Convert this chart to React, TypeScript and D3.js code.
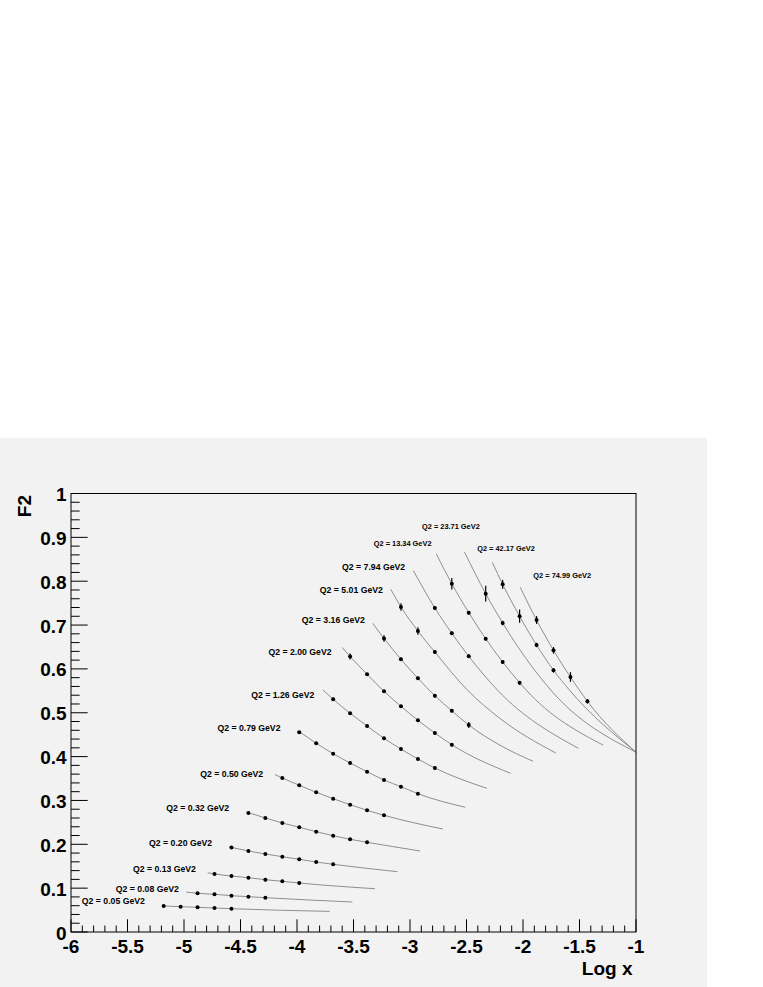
import * as d3 from 'd3';

// F2 vs log x, one curve per Q2 bin
const Q2_BINS = ['0.05', '0.08', '0.13', '0.20', '0.32', '0.50', '0.79', '1.26', '2.00', '3.16', '5.01', '7.94', '13.34', '23.71', '42.17', '74.99'];

const POINT_LOGX: number[][] = [
  [-5.18, -5.03, -4.88, -4.73, -4.58],
  [-4.88, -4.73, -4.58, -4.43, -4.28],
  [-4.73, -4.58, -4.43, -4.28, -4.13, -3.98],
  [-4.58, -4.43, -4.28, -4.13, -3.98, -3.83, -3.68],
  [-4.43, -4.28, -4.13, -3.98, -3.83, -3.68, -3.53, -3.38],
  [-4.13, -3.98, -3.83, -3.68, -3.53, -3.38, -3.23],
  [-3.98, -3.83, -3.68, -3.53, -3.38, -3.23, -3.08, -2.93],
  [-3.68, -3.53, -3.38, -3.23, -3.08, -2.93, -2.78],
  [-3.53, -3.38, -3.23, -3.08, -2.93, -2.78, -2.63],
  [-3.23, -3.08, -2.93, -2.78, -2.63, -2.48],
  [-3.08, -2.93, -2.78],
  [-2.78, -2.63, -2.48],
  [-2.63, -2.48, -2.33, -2.18, -2.03],
  [-2.33, -2.18],
  [-2.18, -2.03, -1.88, -1.73],
  [-1.88, -1.73, -1.58, -1.43],
];

const POINT_F2: number[][] = [
  [0.0593, 0.0577, 0.0563, 0.0547, 0.0531],
  [0.0883, 0.0860, 0.0828, 0.0805, 0.0782],
  [0.1323, 0.1277, 0.1238, 0.1193, 0.1156, 0.1117],
  [0.1927, 0.1847, 0.1779, 0.1717, 0.1658, 0.1596, 0.1544],
  [0.2714, 0.2600, 0.2486, 0.2388, 0.2288, 0.2196, 0.2114, 0.2046],
  [0.3512, 0.3346, 0.3186, 0.3040, 0.2903, 0.2775, 0.2661],
  [0.4554, 0.4303, 0.4066, 0.3854, 0.3656, 0.3466, 0.3314, 0.3154],
  [0.5307, 0.4988, 0.4698, 0.4417, 0.4173, 0.3945, 0.3740],
  [0.6283, 0.5877, 0.5489, 0.5147, 0.4828, 0.4538, 0.4271],
  [0.6693, 0.6219, 0.5786, 0.5389, 0.5044, 0.4721],
  [0.7412, 0.6864, 0.6385],
  [0.7389, 0.6812, 0.6287],
  [0.7943, 0.7282, 0.6689, 0.6157, 0.5685],
  [0.7715, 0.7047],
  [0.7929, 0.7202, 0.6545, 0.5968],
  [0.7115, 0.6424, 0.5815, 0.5261],
];

const POINT_ERR: number[][] = [
  [0.002, 0.002, 0.002, 0.002, 0.002],
  [0.002, 0.002, 0.002, 0.002, 0.002],
  [0.002, 0.002, 0.002, 0.002, 0.002, 0.002],
  [0.002, 0.002, 0.002, 0.002, 0.002, 0.002, 0.002],
  [0.002, 0.002, 0.002, 0.002, 0.002, 0.002, 0.002, 0.003],
  [0.003, 0.003, 0.003, 0.003, 0.003, 0.003, 0.003],
  [0.003, 0.003, 0.003, 0.003, 0.003, 0.003, 0.003, 0.003],
  [0.004, 0.003, 0.003, 0.003, 0.003, 0.003, 0.004],
  [0.007, 0.003, 0.003, 0.003, 0.003, 0.003, 0.004],
  [0.0076, 0.004, 0.004, 0.004, 0.004, 0.007],
  [0.0084, 0.0084, 0.004],
  [0.004, 0.004, 0.004],
  [0.013, 0.004, 0.004, 0.004, 0.004],
  [0.018, 0.005],
  [0.010, 0.015, 0.005, 0.005],
  [0.009, 0.0076, 0.011, 0.005],
];

// fitted curve: start, extra tail samples and end point (log x, F2)
const CURVE_START: [number, number][] = [
  [-5.18, 0.0593], [-4.98, 0.091], [-4.79, 0.135], [-4.6, 0.1935], [-4.45, 0.2722], [-4.195, 0.359],
  [-4.0, 0.4575], [-3.77, 0.552], [-3.6, 0.649], [-3.33, 0.704], [-3.17, 0.7815], [-2.97, 0.824],
  [-2.767, 0.862], [-2.519, 0.867], [-2.272, 0.843], [-2.024, 0.786],
];

const CURVE_TAIL: [number, number][][] = [
  [], [], [], [], [], [], [], [], [],
  [[-2.204, 0.426]],
  [[-2.493, 0.552], [-2.204, 0.487]],
  [[-2.227, 0.552]],
  [[-1.973, 0.552]],
  [[-1.755, 0.552]],
  [[-1.59, 0.552]],
  [],
];

const CURVE_END: [number, number][] = [
  [-3.71, 0.047], [-3.51, 0.0684], [-3.31, 0.0987], [-3.11, 0.1375], [-2.91, 0.1847], [-2.71, 0.2349],
  [-2.51, 0.2844], [-2.32, 0.3277], [-2.11, 0.3619], [-1.91, 0.3893], [-1.71, 0.4082], [-1.51, 0.4189],
  [-1.29, 0.426], [-1, 0.41], [-1, 0.41], [-1, 0.41],
];

// label centres (log x, F2)
const LABEL_POS: [number, number][] = [
  [-5.625, 0.0707], [-5.324, 0.0987], [-5.173, 0.143], [-5.03, 0.2036], [-4.879, 0.2835], [-4.578, 0.361],
  [-4.425, 0.4652], [-4.126, 0.541], [-3.973, 0.639], [-3.678, 0.712], [-3.519, 0.779], [-3.322, 0.832],
  [-3.065, 0.885], [-2.638, 0.924], [-2.15, 0.875], [-1.653, 0.812],
];

const W = 763;
const H = 987;
const FONT = '"Liberation Sans", Arial, Helvetica, sans-serif';
const BG = '#f2f2f2';

export default function App() {
  const x = d3.scaleLinear().domain([-6, -1]).range([71, 636]);
  const y = d3.scaleLinear().domain([0, 1]).range([932, 493.5]);

  const line = d3.line<[number, number]>()
    .x((d) => x(d[0]))
    .y((d) => y(d[1]))
    .curve(d3.curveMonotoneX);

  const xMajor = x.ticks(10);
  const xMinor = x.ticks(50);
  const yMajor = y.ticks(10);
  const yMinor = y.ticks(50);
  const [x0, x1] = x.range();
  const [y0, y1] = y.range();

  return (
    <svg width={W} height={H} style={{ position: 'absolute', left: 0, top: 0 }} fontFamily={FONT}>
      <rect x={0} y={0} width={W} height={H} fill="#ffffff" />
      <rect x={0} y={438} width={707} height={549} fill={BG} />

      {/* curves */}
      {Q2_BINS.map((q, i) => {
        const pts: [number, number][] = [CURVE_START[i]];
        POINT_LOGX[i].forEach((lx, j) => {
          if (lx > CURVE_START[i][0] + 0.01) pts.push([lx, POINT_F2[i][j]]);
        });
        CURVE_TAIL[i].forEach((p) => pts.push(p));
        pts.push(CURVE_END[i]);
        return <path key={'c' + q} d={line(pts) || ''} fill="none" stroke="#8e8e8e" strokeWidth={1} />;
      })}

      {/* data points with error bars */}
      {Q2_BINS.map((q, i) => (
        <g key={'p' + q}>
          {POINT_LOGX[i].map((lx, j) => {
            const f = POINT_F2[i][j];
            const e = POINT_ERR[i][j];
            return (
              <g key={j}>
                <line x1={x(lx)} x2={x(lx)} y1={y(f - e)} y2={y(f + e)} stroke="#000" strokeWidth={1.2} />
                <circle cx={x(lx)} cy={y(f)} r={2} fill="#000" />
              </g>
            );
          })}
        </g>
      ))}

      {/* labels */}
      {Q2_BINS.map((q, i) => (
        <text
          key={'l' + q}
          x={x(LABEL_POS[i][0])}
          y={y(LABEL_POS[i][1])}
          textAnchor="middle"
          dominantBaseline="central"
          fontSize={q.length > 4 ? 7.4 : 8.7}
          fontWeight="bold"
          fill="#000"
        >
          {`Q2 = ${q} GeV2`}
        </text>
      ))}

      {/* frame */}
      <rect x={x0} y={y1} width={x1 - x0} height={y0 - y1} fill="none" stroke="#000" strokeWidth={1} />

      {/* x ticks */}
      {xMinor.map((t) => {
        const major = xMajor.some((m) => Math.abs(m - t) < 1e-9);
        return <line key={'xt' + t} x1={x(t)} x2={x(t)} y1={y0} y2={y0 - (major ? 12.7 : 6.5)} stroke="#000" strokeWidth={1} />;
      })}
      {xMajor.map((t) => (
        <text key={'xl' + t} x={x(t)} y={953} textAnchor="middle" fontSize={19} fontWeight="bold" fill="#000">
          {String(+t.toFixed(1))}
        </text>
      ))}

      {/* y ticks */}
      {yMinor.map((t) => {
        const major = yMajor.some((m) => Math.abs(m - t) < 1e-9);
        return <line key={'yt' + t} x1={x0} x2={x0 + (major ? 16.7 : 8.7)} y1={y(t)} y2={y(t)} stroke="#000" strokeWidth={1} />;
      })}
      {yMajor.map((t) => (
        <text key={'yl' + t} x={66.7} y={y(t) + 7.5} textAnchor="end" fontSize={19} fontWeight="bold" fill="#000">
          {String(+t.toFixed(1))}
        </text>
      ))}

      {/* axis titles */}
      <text x={632.5} y={975} textAnchor="end" fontSize={19} fontWeight="bold" fill="#000">Log x</text>
      <text transform={`translate(31,495) rotate(-90)`} textAnchor="end" fontSize={19} fontWeight="bold" fill="#000">F2</text>
    </svg>
  );
}
